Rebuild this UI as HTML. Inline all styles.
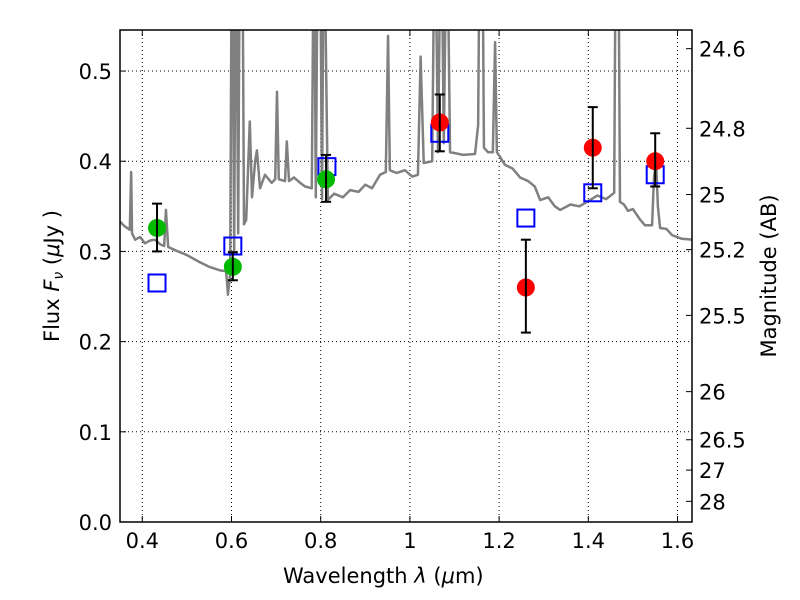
<!DOCTYPE html>
<html><head><meta charset="utf-8"><style>body{margin:0;background:#fff}svg{display:block;font-family:"DejaVu Sans","Liberation Sans",sans-serif}</style></head>
<body>
<svg id="c" width="800" height="600"></svg>
<script>
const specLam=[.350,.360,.372,.375,.377,.384,.395,.406,.417,.428,.440,.449,.453,.458,.462,.480,.500,.529,.550,.574,.588,.592,.597,.601,.606,.610,.615,.619,.624,.628,.633,.641,.646,.653,.657,.664,.675,.690,.698,.702,.706,.720,.724,.729,.740,.754,.765,.780,.785,.789,.794,.798,.803,.807,.816,.830,.850,.866,.885,.900,.915,.933,.946,.951,.955,.970,.989,1.005,1.018,1.024,1.031,1.050,1.056,1.063,1.070,1.076,1.083,1.090,1.101,1.120,1.146,1.153,1.157,1.162,1.166,1.175,1.186,1.191,1.195,1.202,1.213,1.230,1.247,1.265,1.280,1.292,1.310,1.325,1.337,1.360,1.380,1.404,1.420,1.440,1.458,1.462,1.467,1.471,1.480,1.489,1.500,1.515,1.527,1.543,1.547,1.552,1.556,1.561,1.575,1.588,1.610,1.633];
const specFlux=[.333,.328,.324,.388,.320,.313,.316,.309,.312,.313,.308,.306,.346,.305,.304,.300,.296,.288,.283,.279,.278,.252,.275,.70,.30,.70,.32,.70,.70,.33,.335,.444,.36,.40,.412,.37,.385,.376,.380,.477,.380,.378,.422,.378,.382,.376,.372,.370,.70,.36,.70,.70,.358,.70,.357,.364,.360,.368,.366,.374,.370,.385,.388,.539,.390,.387,.390,.383,.385,.516,.398,.400,.70,.41,.70,.42,.70,.41,.409,.407,.408,.44,.70,.70,.415,.410,.410,.532,.41,.405,.396,.392,.382,.378,.372,.357,.360,.350,.346,.352,.350,.357,.362,.358,.365,.70,.70,.355,.352,.345,.347,.336,.329,.329,.38,.401,.35,.326,.325,.318,.314,.313];
const greenLam=[.433,.603,.812], greenFlux=[.326,.283,.380], greenHi=[.353,.299,.407], greenLo=[.300,.268,.355];
const redLam=[1.067,1.260,1.410,1.550], redFlux=[.443,.260,.415,.400], redHi=[.474,.313,.460,.431], redLo=[.411,.210,.370,.372];
const boxLam=[.433,.603,.814,1.067,1.260,1.410,1.550], boxFlux=[.265,.306,.394,.431,.337,.365,.385];
const xTicks=[0.4,0.6,0.8,1.0,1.2,1.4,1.6], xTickLabels=["0.4","0.6","0.8","1","1.2","1.4","1.6"];
const yTicks=[0,0.1,0.2,0.3,0.4,0.5], yTickLabels=["0.0","0.1","0.2","0.3","0.4","0.5"];
const magTicks=[24.6,24.8,25,25.2,25.5,26,26.5,27,28];
const L=120,R=692,T=30,B=522,x0=0.35,x1=1.6325,y0=0,y1=0.5455;
const X=v=>L+(v-x0)/(x1-x0)*(R-L), Y=v=>B-(v-y0)/(y1-y0)*(B-T);
const svg=document.getElementById('c'),NS='http://www.w3.org/2000/svg';
function mk(t,a,p){const e=document.createElementNS(NS,t);for(const k in a)e.setAttribute(k,a[k]);(p||svg).appendChild(e);return e;}
const defs=mk('defs',{});const cp=mk('clipPath',{id:'cp'},defs);mk('rect',{x:L,y:T,width:R-L,height:B-T},cp);
xTicks.forEach((t,i)=>{
 const g=mk('line',{x1:X(t),x2:X(t),y1:T,y2:B,stroke:'#000','stroke-width':1,'stroke-dasharray':'1,3'});
 
 mk('line',{x1:X(t),x2:X(t),y1:B,y2:B-6,stroke:'#000'});mk('line',{x1:X(t),x2:X(t),y1:T,y2:T+6,stroke:'#000'});
 const tx=mk('text',{x:X(t),y:B+26,'text-anchor':'middle','font-size':21});tx.textContent=xTickLabels[i];
 
});
yTicks.forEach((t,i)=>{
 const g=mk('line',{x1:L,x2:R,y1:Y(t),y2:Y(t),stroke:'#000','stroke-width':1,'stroke-dasharray':'1,3'});
 
 mk('line',{x1:L,x2:L+6,y1:Y(t),y2:Y(t),stroke:'#000'});
 const tx=mk('text',{x:L-8,y:Y(t)+8,'text-anchor':'end','font-size':21});tx.textContent=yTickLabels[i];
 
});
magTicks.forEach(m=>{
 const f=Math.pow(10,(23.9-m)/2.5);
 mk('line',{x1:R,x2:R-6,y1:Y(f),y2:Y(f),stroke:'#000'});
 const tx=mk('text',{x:R+7,y:Y(f)+8,'font-size':21});tx.textContent=String(m);
 
});
const gp=mk('g',{'clip-path':'url(#cp)'});
const pl=mk('polyline',{points:specLam.map((l,i)=>X(l)+','+Y(specFlux[i])).join(' '),fill:'none',stroke:'#808080','stroke-width':2.5,'stroke-linejoin':'round'},gp);

boxLam.forEach((l,i)=>{const r=mk('rect',{x:X(l)-8.5,y:Y(boxFlux[i])-8.5,width:17,height:17,fill:'none',stroke:'#0000ff','stroke-width':2},gp);
 });
function pts(lam,fl,hi,lo,col,name){lam.forEach((l,i)=>{
 const g=mk('g',{},gp);
 
 mk('circle',{cx:X(l),cy:Y(fl[i]),r:9,fill:col},g);
 mk('line',{x1:X(l),x2:X(l),y1:Y(hi[i]),y2:Y(lo[i]),stroke:'#000','stroke-width':2},g);
 mk('line',{x1:X(l)-5,x2:X(l)+5,y1:Y(hi[i]),y2:Y(hi[i]),stroke:'#000','stroke-width':2},g);
 mk('line',{x1:X(l)-5,x2:X(l)+5,y1:Y(lo[i]),y2:Y(lo[i]),stroke:'#000','stroke-width':2},g);
});}
pts(greenLam,greenFlux,greenHi,greenLo,'#00bb00','green-data-point');
pts(redLam,redFlux,redHi,redLo,'#ff0000','red-data-point');
mk('rect',{x:L,y:T,width:R-L,height:B-T,fill:'none',stroke:'#000','stroke-width':1.5});
let t=mk('text',{x:283,y:583,'font-size':21});t.innerHTML='Wavelength  <tspan font-style="italic">λ</tspan> (<tspan font-style="italic">μ</tspan>m)';

t=mk('text',{x:0,y:0,'text-anchor':'middle','font-size':21,transform:'translate(59,276) rotate(-90)'});t.innerHTML='Flux  <tspan font-style="italic">F</tspan><tspan font-style="italic" font-size="14" dy="4">ν</tspan><tspan dy="-4">  (</tspan><tspan font-style="italic">μ</tspan>Jy )';

t=mk('text',{x:0,y:0,'text-anchor':'middle','font-size':21,transform:'translate(776,276) rotate(-90)'});t.textContent='Magnitude (AB)';

</script>
</body></html>
